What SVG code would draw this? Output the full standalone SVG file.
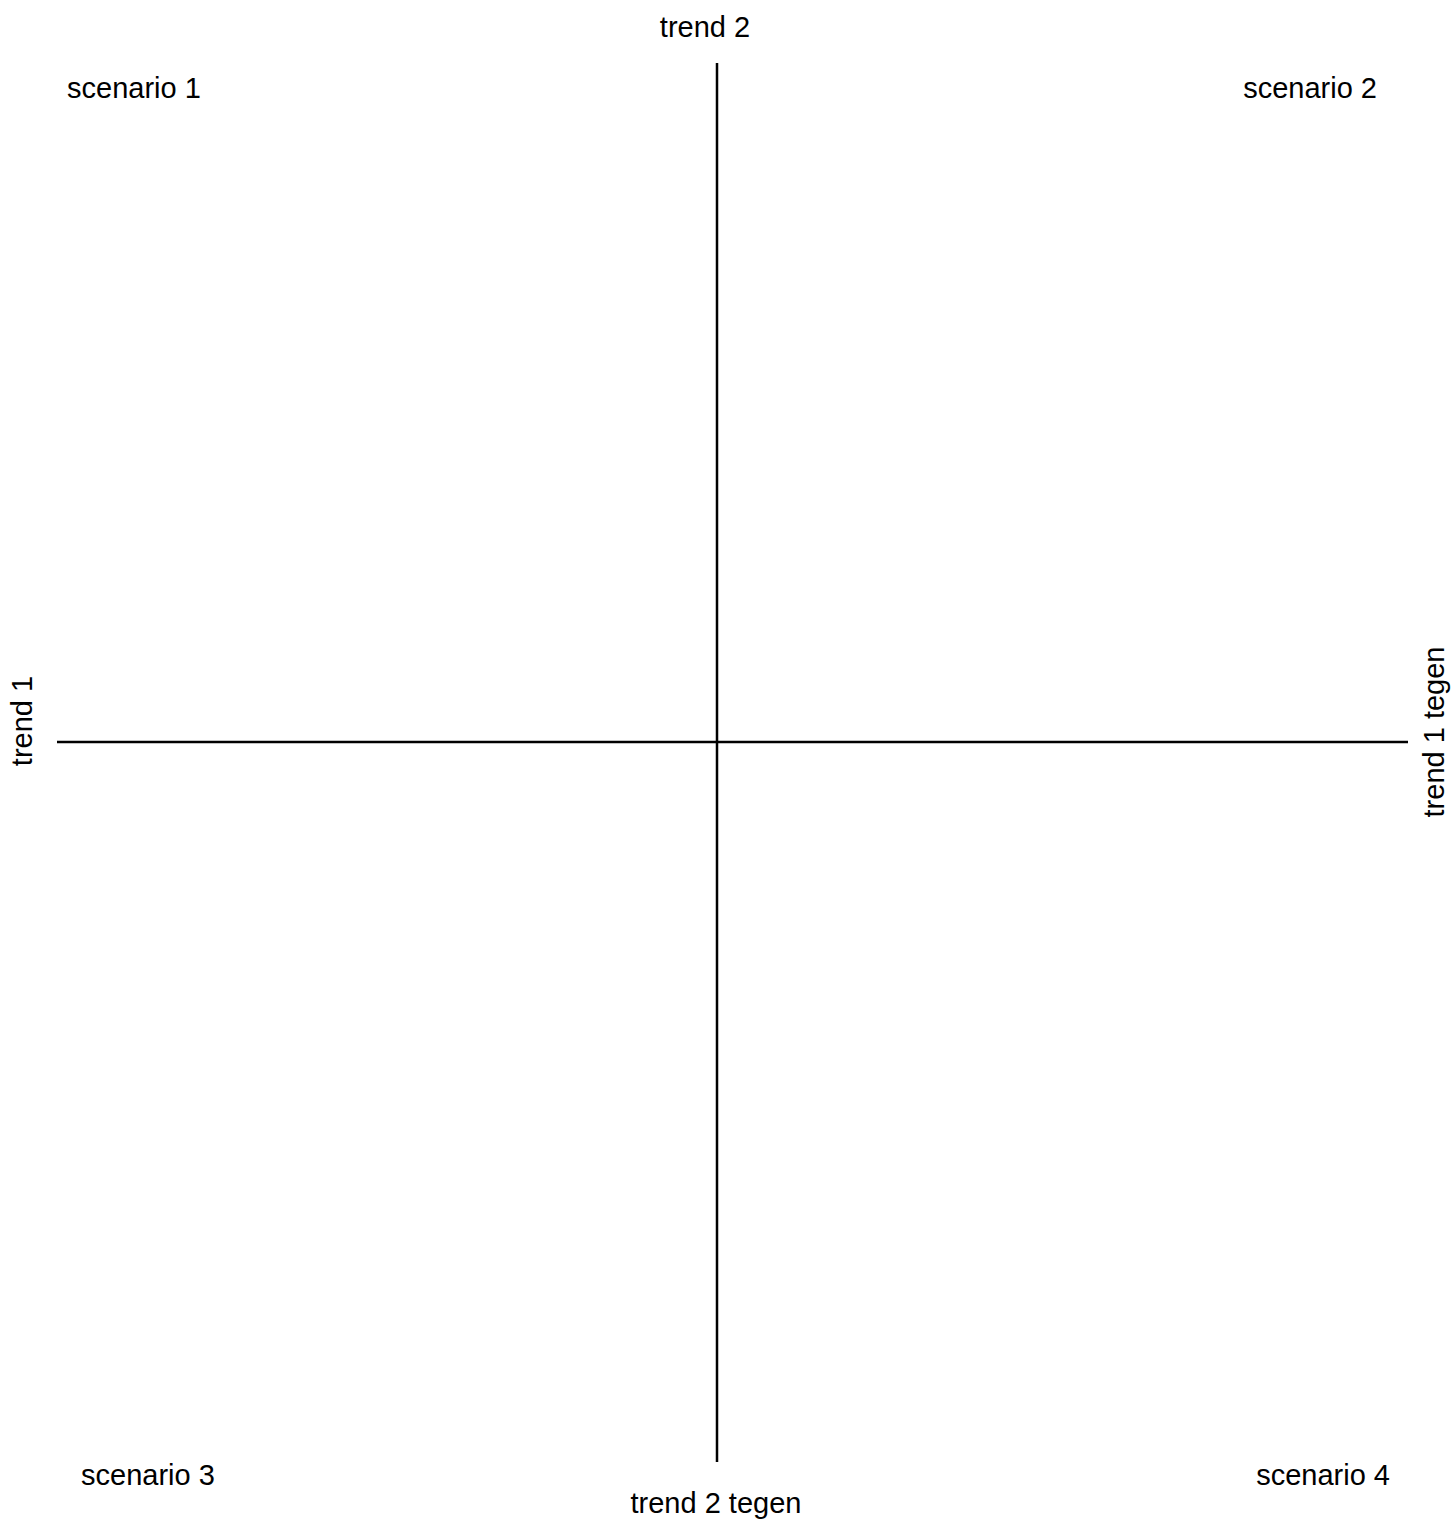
<svg xmlns="http://www.w3.org/2000/svg" width="1453" height="1519" viewBox="0 0 1453 1519">
<style>
text{font-family:"Liberation Sans",Arial,sans-serif;font-size:29px;fill:#000}
.ax{stroke:#000;stroke-width:2.5;fill:none}
</style>
<rect width="1453" height="1519" fill="#fff"/>
<g id="connectors">
<line class="ax" x1="717" y1="63" x2="717" y2="1462"/>
<line class="ax" x1="57" y1="742" x2="1408" y2="742"/>
</g>
<g id="trend2"><text x="705" y="37" text-anchor="middle">trend 2</text></g>
<g id="trend2tegen"><text x="716" y="1513" text-anchor="middle">trend 2 tegen</text></g>
<g id="trend1"><text transform="translate(32,721) rotate(-90)" text-anchor="middle">trend 1</text></g>
<g id="trend1tegen"><text transform="translate(1444,732) rotate(-90)" text-anchor="middle">trend 1 tegen</text></g>
<g id="scenario1"><text x="67" y="98">scenario 1</text></g>
<g id="scenario2"><text x="1377" y="98" text-anchor="end">scenario 2</text></g>
<g id="scenario3"><text x="81" y="1485">scenario 3</text></g>
<g id="scenario4"><text x="1390" y="1485" text-anchor="end">scenario 4</text></g>
</svg>
